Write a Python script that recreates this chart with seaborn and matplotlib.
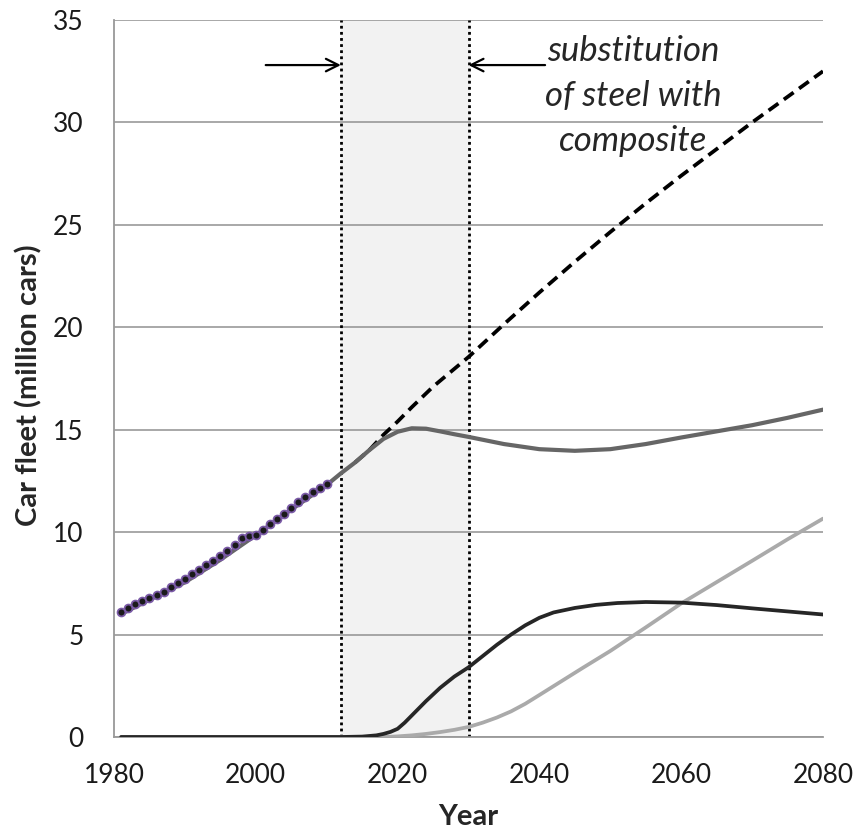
import matplotlib
matplotlib.use("Agg")
import matplotlib.pyplot as plt
import seaborn as sns

# ---------------- data ----------------
obs_years = list(range(1981, 2011))
obs_values = [6.1, 6.3, 6.5, 6.65, 6.8, 6.95, 7.1, 7.3, 7.5, 7.7,
              7.95, 8.15, 8.4, 8.6, 8.85, 9.1, 9.35, 9.7, 9.8, 9.85,
              10.1, 10.4, 10.65, 10.9, 11.2, 11.45, 11.7, 11.95, 12.15, 12.35]

total_years = [1981, 1985, 1990, 1995, 2000, 2005, 2010, 2012, 2014, 2016, 2018,
               2020, 2022, 2024, 2026, 2028, 2030, 2035, 2040, 2045, 2050,
               2055, 2060, 2065, 2070, 2075, 2080]
total_values = [6.0, 6.7, 7.55, 8.65, 9.85, 11.1, 12.3, 12.87, 13.4, 14.0, 14.55,
                14.9, 15.07, 15.05, 14.92, 14.78, 14.65, 14.3, 14.05, 13.97, 14.05,
                14.3, 14.62, 14.92, 15.22, 15.58, 15.98]

bau_years = [2014, 2016, 2018, 2020, 2022, 2025, 2030, 2035, 2040, 2045, 2050,
             2055, 2060, 2065, 2070, 2075, 2080]
bau_values = [13.4, 14.0, 14.75, 15.4, 16.1, 17.1, 18.55, 20.15, 21.7, 23.2, 24.65,
              26.05, 27.4, 28.7, 30.0, 31.25, 32.5]

steel_years = [1981, 2012, 2015, 2017, 2018, 2019, 2020, 2021, 2022, 2024, 2026,
               2028, 2030, 2032, 2034, 2036, 2038, 2040, 2042, 2045, 2048,
               2051, 2055, 2060, 2065, 2070, 2075, 2080]
steel_values = [0.0, 0.0, 0.02, 0.08, 0.15, 0.25, 0.4, 0.7, 1.05, 1.75, 2.4,
                2.95, 3.4, 3.95, 4.5, 5.0, 5.45, 5.82, 6.08, 6.3, 6.45,
                6.54, 6.59, 6.56, 6.44, 6.28, 6.13, 5.98]

comp_years = [1981, 2018, 2020, 2022, 2024, 2026, 2028, 2030, 2032, 2034, 2036,
              2038, 2040, 2043, 2046, 2050, 2055, 2060, 2065, 2070, 2075, 2080]
comp_values = [0.0, 0.0, 0.03, 0.08, 0.15, 0.24, 0.35, 0.49, 0.7, 0.95, 1.25,
               1.62, 2.05, 2.7, 3.35, 4.2, 5.35, 6.52, 7.56, 8.6, 9.65, 10.66]

x_ticks = [1980, 2000, 2020, 2040, 2060, 2080]
y_ticks = [0, 5, 10, 15, 20, 25, 30, 35]
span_start, span_end = 2012, 2030
annotation = "substitution\nof steel with\ncomposite"

# ---------------- style ----------------
sns.set_style("white")
plt.rcParams['font.family'] = ['Lato', 'DejaVu Sans']

fig = plt.figure(figsize=(8.55, 8.36), dpi=100)
ax = fig.add_axes([114/855, 1-737/836, (823-114)/855, (737-20)/836])

ax.axvspan(span_start, span_end, color="#f2f2f2", zorder=0)
ax.axvline(span_start, color="black", ls=(0, (1, 1.2)), lw=2, zorder=1)
ax.axvline(span_end, color="black", ls=(0, (1, 1.2)), lw=2, zorder=1)

sns.lineplot(x=bau_years, y=bau_values, ax=ax, color="black", lw=2.7,
             linestyle=(0, (3.2, 1.8)), zorder=2)
sns.lineplot(x=comp_years, y=comp_values, ax=ax, color="#aaaaaa", lw=2.7, zorder=3)
sns.lineplot(x=steel_years, y=steel_values, ax=ax, color="#262626", lw=2.7, zorder=4)
sns.lineplot(x=total_years, y=total_values, ax=ax, color="#666666", lw=3.0, zorder=5)
sns.scatterplot(x=obs_years, y=obs_values, ax=ax, color="#1a1a1a", s=32,
                edgecolor="#7a5aa6", linewidth=1.3, zorder=6)

ax.set_xlim(1980, 2080)
ax.set_ylim(0, 35)
ax.set_xticks(x_ticks)
ax.set_yticks(y_ticks)
ax.yaxis.grid(True, color="#999999", lw=1.2)
ax.xaxis.grid(False)
for s in ["top", "right"]:
    ax.spines[s].set_visible(False)
for s in ["left", "bottom"]:
    ax.spines[s].set_color("#999999")
    ax.spines[s].set_linewidth(1.3)
ax.tick_params(axis="both", which="major", direction="out",
               color="#999999", width=1.2, labelsize=19, labelcolor="#1a1a1a")
ax.tick_params(axis="x", length=6, pad=13)
ax.tick_params(axis="y", length=8, pad=14)

ax.set_xlabel("Year", fontsize=21, fontweight="bold", labelpad=11)
ax.set_ylabel("Car fleet (million cars)", fontsize=21, fontweight="bold")
ax.yaxis.set_label_coords((42 - 114) / 709, 0.49)

arrowprops = dict(arrowstyle="->,head_length=0.9,head_width=0.45", color="black", lw=1.6,
                  shrinkA=0, shrinkB=0)
ax.annotate("", xy=(span_start, 32.8), xytext=(2001.4, 32.8), arrowprops=arrowprops)
ax.annotate("", xy=(span_end, 32.8), xytext=(2040.8, 32.8), arrowprops=arrowprops)
ax.text(2053.2, 31.3, annotation, ha="center", va="center", fontsize=25,
        style="italic", linespacing=1.5)

fig.savefig("out.png", dpi=100)
